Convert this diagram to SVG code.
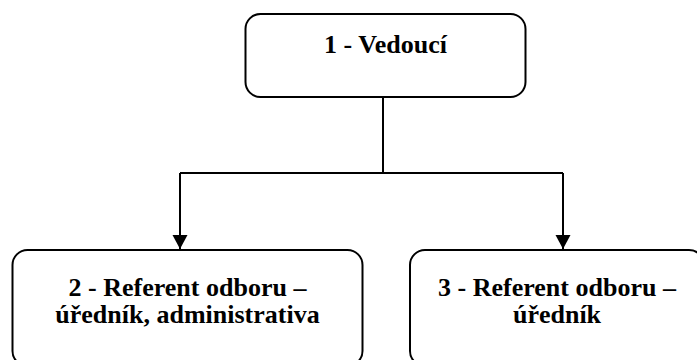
<svg xmlns="http://www.w3.org/2000/svg" width="697" height="360" viewBox="0 0 697 360">
  <style>
    .box { fill: #ffffff; stroke: #000000; stroke-width: 2; }
    .label { font-weight: 700; font-size: 26px; fill: #000000; text-anchor: middle; }
    .wire { fill: none; stroke: #000000; stroke-width: 2; }
  </style>
  <defs>
    <marker id="arrow" markerWidth="16" markerHeight="16" refX="14" refY="7.5" orient="auto" markerUnits="userSpaceOnUse">
      <path d="M0,0 L14,7.5 L0,15 Z" fill="#000000"/>
    </marker>
  </defs>
  <rect width="697" height="360" fill="#ffffff"/>

  <g id="connectors">
    <line class="wire" x1="383" y1="97" x2="383" y2="173" stroke-width="1.5"/>
    <line class="wire" x1="180" y1="173" x2="563" y2="173"/>
    <line class="wire" x1="180" y1="173" x2="180" y2="249" marker-end="url(#arrow)"/>
    <line class="wire" x1="563" y1="173" x2="563" y2="249" marker-end="url(#arrow)"/>
  </g>

  <g font-family="Liberation Serif, serif">
    <g id="node1">
      <rect class="box" x="245.5" y="14" width="280" height="83" rx="15" ry="15"/>
      <text class="label" x="385.5" y="53">1 - Vedoucí</text>
    </g>

    <g id="node2">
      <rect class="box" x="12.5" y="250" width="350" height="116" rx="15" ry="15"/>
      <text class="label" x="187.5" y="296">2 - Referent odboru –</text>
      <text class="label" x="187.5" y="323">úředník, administrativa</text>
    </g>

    <g id="node3">
      <rect class="box" x="410" y="250" width="294" height="116" rx="15" ry="15"/>
      <text class="label" x="557" y="296">3 - Referent odboru –</text>
      <text class="label" x="557" y="323">úředník</text>
    </g>
  </g>
</svg>
